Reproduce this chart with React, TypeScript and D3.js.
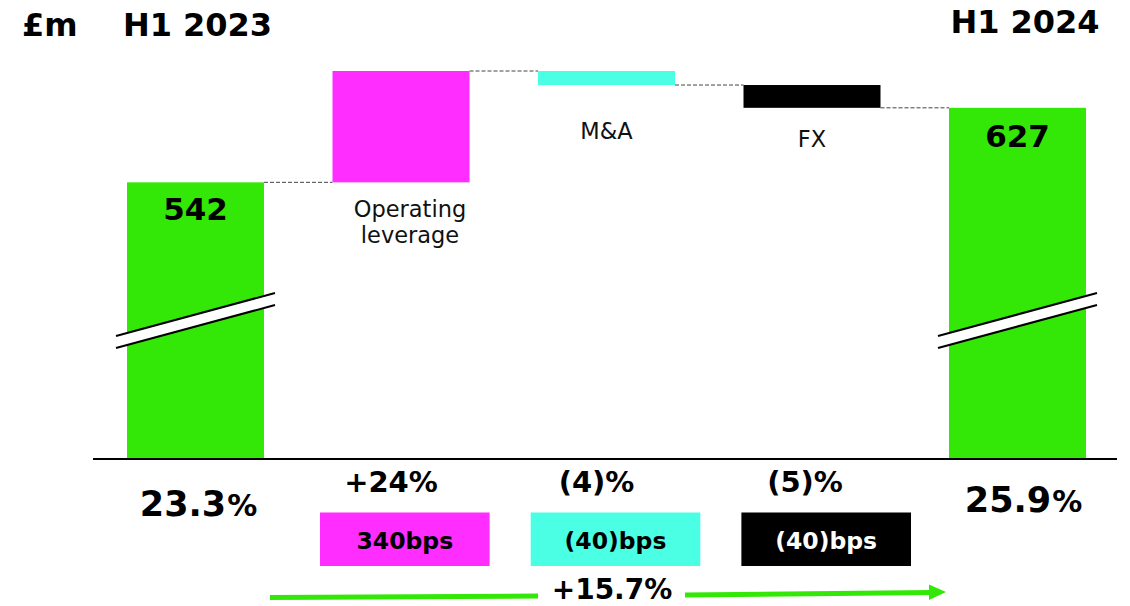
import React from "react";
import * as d3 from "d3";

const categories = ["H1 2023", "Operating leverage", "M&A", "FX", "H1 2024"];
const startValue = 542;
const changeValues = [127, -16, -26];
const endValue = 627;
const changeColors = ["#FF2DFF", "#4BFFE4", "#000000"];
const changeNameLines = [["Operating", "leverage"], ["M&A"], ["FX"]];
const growthLabels = ["+24%", "(4)%", "(5)%"];
const bpsLabels = ["340bps", "(40)bps", "(40)bps"];
const bpsTextColors = ["#000000", "#000000", "#FFFFFF"];
const marginLabels = ["23.3", "25.9"];
const totalGrowthLabel = "+15.7%";
const unitLabel = "£m";

const W = 1130;
const H = 606;
const GREEN = "#33E807";
const FONT = "'DejaVu Sans', Verdana, sans-serif";

export default function App() {
  const x = d3.scaleBand<string>().domain(categories).range([127, 1086]).paddingInner(1 / 3).paddingOuter(0);
  const y = d3.scaleLinear().domain([227, 669]).range([458.5, 71]);
  const boxX = d3.scaleBand<string>().domain(bpsLabels.map((d, i) => d + i)).range([320, 911]).paddingInner(0.195).paddingOuter(0);

  const steps: { cat: string; y0: number; y1: number; color: string }[] = [];
  let cum = startValue;
  steps.push({ cat: categories[0], y0: y.domain()[0], y1: startValue, color: GREEN });
  changeValues.forEach((v, i) => {
    const next = cum + v;
    steps.push({ cat: categories[i + 1], y0: cum, y1: next, color: changeColors[i] });
    cum = next;
  });
  steps.push({ cat: categories[4], y0: y.domain()[0], y1: endValue, color: GREEN });

  const bw = x.bandwidth();
  const baseY = y(y.domain()[0]);

  const connectors = steps.slice(0, -1).map((s, i) => ({
    x1: (x(s.cat) as number) + bw,
    x2: x(steps[i + 1].cat) as number,
    yv: s.y1,
  }));

  const breakMark = (cat: string) => {
    const bx = x(cat) as number;
    const xl = bx - 11;
    const xr = bx + bw + 11;
    const yc = baseY - 138;
    const dy = 21.5;
    const gap = 12;
    const y1l = yc + dy - gap / 2;
    const y1r = yc - dy - gap / 2;
    return (
      <g key={"brk" + cat}>
        <polygon points={`${xl},${y1l} ${xr},${y1r} ${xr},${y1r + gap} ${xl},${y1l + gap}`} fill="#fff" />
        <line x1={xl} y1={y1l} x2={xr} y2={y1r} stroke="#000" strokeWidth={2} />
        <line x1={xl} y1={y1l + gap} x2={xr} y2={y1r + gap} stroke="#000" strokeWidth={2} />
      </g>
    );
  };

  const centre = (c: string) => (x(c) as number) + bw / 2;

  return (
    <svg width={W} height={H} style={{ position: "fixed", left: 0, top: 0, display: "block", background: "#fff" }} fontFamily={FONT}>
      <rect x={0} y={0} width={W} height={H} fill="#fff" />
      <text x={22} y={36} fontSize={32} fontWeight="bold" fill="#000">{unitLabel}</text>
      <text x={centre(categories[0]) + 2} y={36} fontSize={32} fontWeight="bold" textAnchor="middle" fill="#000">{categories[0]}</text>
      <text x={centre(categories[4]) + 7.5} y={33} fontSize={32} fontWeight="bold" textAnchor="middle" fill="#000">{categories[4]}</text>

      {connectors.map((c, i) => (
        <line key={"c" + i} x1={c.x1} x2={c.x2} y1={y(c.yv)} y2={y(c.yv)} stroke="#444" strokeWidth={1} strokeDasharray="4,2" />
      ))}

      {steps.map((s, i) => (
        <rect key={"b" + i} x={x(s.cat)} width={bw} y={y(Math.max(s.y0, s.y1))} height={Math.abs(y(s.y0) - y(s.y1))} fill={s.color} />
      ))}

      {breakMark(categories[0])}
      {breakMark(categories[4])}

      <text x={centre(categories[0])} y={y(startValue) + 37.5} fontSize={31} fontWeight="bold" textAnchor="middle" fill="#000">{startValue}</text>
      <text x={centre(categories[4])} y={y(endValue) + 39} fontSize={31} fontWeight="bold" textAnchor="middle" fill="#000">{endValue}</text>

      {changeNameLines.map((lines, i) => {
        const s = steps[i + 1];
        const bottom = y(Math.min(s.y0, s.y1));
        const offs = [9, 0, 0][i];
        const top = [35, 54, 39][i];
        return (
          <text key={"n" + i} x={centre(s.cat) + offs} y={bottom + top} fontSize={22.5} textAnchor="middle" fill="#111">
            {lines.map((l, j) => (
              <tspan key={j} x={centre(s.cat) + offs} dy={j === 0 ? 0 : 25.5}>{l}</tspan>
            ))}
          </text>
        );
      })}

      <line x1={93} x2={1117} y1={baseY + 0.5} y2={baseY + 0.5} stroke="#000" strokeWidth={2} />

      {[categories[0], categories[4]].map((c, i) => (
        <text key={"m" + i} x={centre(c) + [3, 6][i]} y={[516, 512][i]} fontSize={35} fontWeight="bold" textAnchor="middle" fill="#000">
          {marginLabels[i]}
          <tspan fontSize={30} dx={1}>%</tspan>
        </text>
      ))}

      {growthLabels.map((g, i) => (
        <text key={"g" + i} x={centre(categories[i + 1]) - 10 + i * 3 - (i > 0 ? 3 : 0)} y={492} fontSize={29} fontWeight="bold" textAnchor="middle" fill="#000">{g}</text>
      ))}

      {bpsLabels.map((b, i) => {
        const bx = boxX(b + i) as number;
        return (
          <g key={"bp" + i}>
            <rect x={bx} y={512.5} width={boxX.bandwidth()} height={53.5} fill={changeColors[i]} />
            <text x={bx + boxX.bandwidth() / 2} y={548.5} fontSize={23.5} fontWeight="bold" textAnchor="middle" fill={bpsTextColors[i]}>{b}</text>
          </g>
        );
      })}

      <line x1={270} y1={597.5} x2={538} y2={596} stroke={GREEN} strokeWidth={5} />
      <line x1={685} y1={595} x2={932} y2={592.5} stroke={GREEN} strokeWidth={5} />
      <polygon points="929,584.5 946,592 929,600" fill={GREEN} />
      <text x={612} y={599} fontSize={28} fontWeight="bold" textAnchor="middle" fill="#000">{totalGrowthLabel}</text>
    </svg>
  );
}
